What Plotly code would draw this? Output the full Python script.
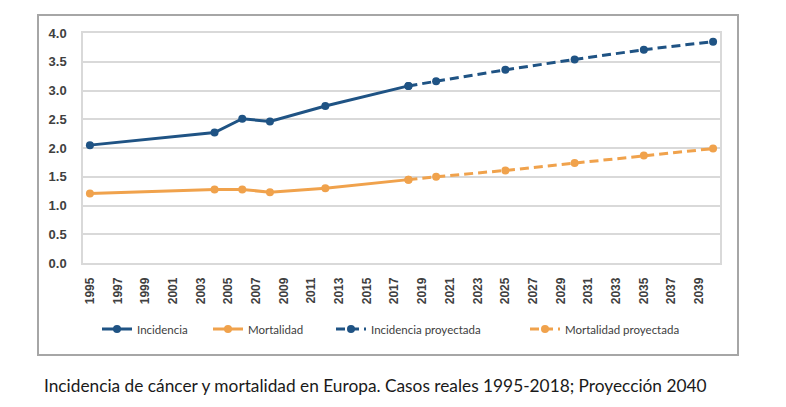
import plotly.graph_objects as go

# datos (casos reales y proyeccion)
anios_reales = [1995, 2004, 2006, 2008, 2012, 2018]
incidencia = [2.05, 2.27, 2.51, 2.46, 2.73, 3.08]
mortalidad = [1.21, 1.28, 1.28, 1.23, 1.30, 1.45]

anios_proy = [2018, 2020, 2025, 2030, 2035, 2040]
incidencia_proy = [3.08, 3.16, 3.36, 3.54, 3.71, 3.85]
mortalidad_proy = [1.45, 1.50, 1.61, 1.74, 1.87, 1.99]

ticks_x = list(range(1995, 2040, 2))
ticks_y = [0.0, 0.5, 1.0, 1.5, 2.0, 2.5, 3.0, 3.5, 4.0]

azul = "#1f5384"
naranja = "#f0a24c"
W, H = 786, 407

fig = go.Figure()

series = [
    ("Incidencia", anios_reales, incidencia, azul, "solid", "legend"),
    ("Mortalidad", anios_reales, mortalidad, naranja, "solid", "legend2"),
    ("Incidencia proyectada", anios_proy, incidencia_proy, azul, "9px,5px", "legend3"),
    ("Mortalidad proyectada", anios_proy, mortalidad_proy, naranja, "9px,5px", "legend4"),
]
for nombre, xs, ys, color, dash, leg in series:
    fig.add_trace(go.Scatter(
        x=xs, y=ys, name=nombre, mode="lines+markers",
        line=dict(color=color, width=3, dash=dash),
        marker=dict(color=color, size=8, symbol="circle"),
        legend=leg,
    ))

# marco exterior del grafico
fig.add_shape(type="rect", xref="paper", yref="paper",
              x0=(38 - 83) / 637, x1=(738 - 83) / 637,
              y0=1 - (355 - 33) / 230, y1=1 + (33 - 15) / 230,
              line=dict(color="#a6a6a6", width=2), layer="below")

leg_font = dict(family="Lato, Liberation Sans, sans-serif", size=11.5, color="#404040")
# posicion x (px) donde empieza cada leyenda (texto = x + 40)
posiciones = {"legend": 97, "legend2": 208, "legend3": 331, "legend4": 525}
leg_cfg = {}
for k, px in posiciones.items():
    leg_cfg[k] = dict(x=(px - 83) / 637, y=1 - (329 - 33) / 230,
                      xanchor="left", yanchor="middle", orientation="h",
                      bgcolor="rgba(0,0,0,0)", font=leg_font,
                      itemwidth=30, tracegroupgap=0)

fig.update_layout(
    width=W, height=H,
    margin=dict(l=83, r=66, t=33, b=144),
    paper_bgcolor="white", plot_bgcolor="white",
    font=dict(family="Lato, Liberation Sans, sans-serif", color="#404040"),
    showlegend=True,
    **leg_cfg,
)

fig.update_xaxes(
    range=[1994.5, 2040.5], tickvals=ticks_x, tickangle=-90,
    showgrid=False, zeroline=False,
    showline=True, linecolor="#d9d9d9", linewidth=1.5, mirror=True,
    tickfont=dict(family="Liberation Sans, sans-serif", size=12, color="#404040", weight="bold"),
    ticks="", ticklabelstandoff=8,
)
fig.update_yaxes(
    range=[0, 4.0], tickvals=ticks_y, tickformat=".1f",
    showgrid=True, gridcolor="#d9d9d9", gridwidth=1.5, zeroline=False,
    showline=True, linecolor="#d9d9d9", linewidth=1.5, mirror=True,
    tickfont=dict(family="Liberation Sans, sans-serif", size=13, color="#404040", weight="bold"),
    ticks="", ticklabelstandoff=12,
)

fig.add_annotation(
    text="Incidencia de cáncer y mortalidad en Europa. Casos reales 1995-2018; Proyección 2040",
    xref="paper", yref="paper", x=(42 - 83) / 637, y=1 - (385 - 33) / 230,
    xanchor="left", yanchor="middle", showarrow=False,
    font=dict(family="Lato, sans-serif", size=17.3, color="#1a1a1a"),
)

fig.write_html("out.html", config={"displayModeBar": False},
               post_script="document.body.style.margin='0';")
